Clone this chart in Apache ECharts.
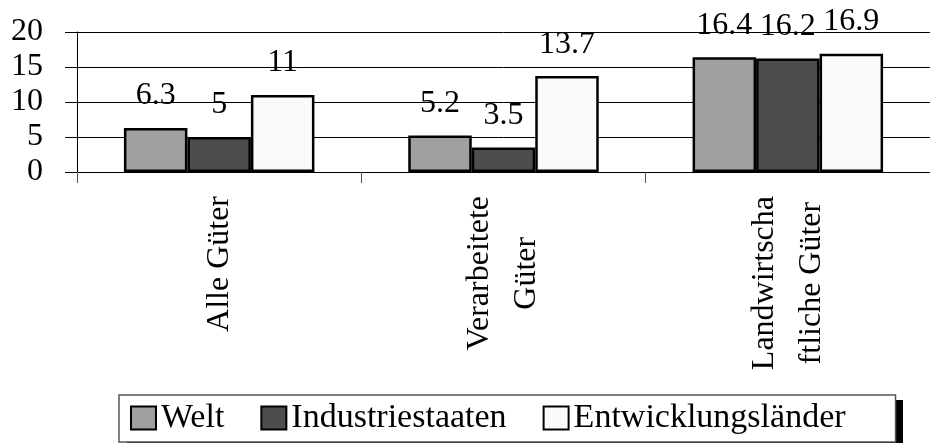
<!DOCTYPE html>
<html>
<head>
<meta charset="utf-8">
<script src="https://cdn.jsdelivr.net/npm/echarts@6/dist/echarts.min.js"></script>
<style>
  html, body { margin: 0; padding: 0; background: #fff; }
  #chart { width: 930px; height: 443px; }
</style>
</head>
<body>
<div id="chart"></div>
<script>
// categories as wrapped in the original
var categories = ['Alle Güter', 'Verarbeitete\nGüter', 'Landwirtscha\nftliche Güter']
var welt = [6.3, 5.2, 16.4]
var industriestaaten = [5, 3.5, 16.2]
var entwicklungslaender = [11, 13.7, 16.9]
var seriesNames = ['Welt', 'Industriestaaten', 'Entwicklungsländer']
var yTicks = { min: 0, max: 20, interval: 5 }

var font = '"Liberation Serif", "Times New Roman", serif'
var colors = ['#a0a0a0', '#4d4d4d', '#fafafa']

var chart = echarts.init(document.getElementById('chart'))

function barSeries(name, data, color) {
  return {
    name: name,
    type: 'bar',
    data: data,
    barGap: '0%',
    barCategoryGap: '33%',
    itemStyle: {
      color: color,
      borderColor: '#000',
      borderWidth: 2.5
    },
    label: {
      show: true,
      position: 'top',
      distance: 16,
      color: '#000',
      fontFamily: font,
      fontSize: 32
    }
  }
}

chart.setOption({
  backgroundColor: '#fff',
  animation: false,
  grid: {
    left: 77,
    right: -8,
    top: 32,
    bottom: 271
  },
  // white box with the black drop shadow behind the legend
  graphic: [{
    type: 'rect',
    z: 0,
    shape: { x: 119, y: 395, width: 776, height: 47 },
    style: {
      fill: '#fff',
      shadowColor: '#000',
      shadowBlur: 0,
      shadowOffsetX: 8,
      shadowOffsetY: 5
    }
  }],
  legend: {
    left: 119,
    top: 395,
    padding: [5, 50, 6, 11],
    itemWidth: 25,
    itemHeight: 23,
    itemGap: 36,
    icon: 'rect',
    borderColor: '#555',
    borderWidth: 1.5,
    borderRadius: 0,
    textStyle: {
      fontFamily: font,
      fontSize: 34,
      lineHeight: 36,
      color: '#000'
    },
    data: seriesNames
  },
  xAxis: {
    type: 'category',
    data: categories,
    boundaryGap: true,
    axisLine: { lineStyle: { color: '#000', width: 1 } },
    axisTick: { show: true, length: 11, lineStyle: { color: '#555' } },
    axisLabel: {
      rotate: 90,
      margin: 24,
      interval: 0,
      formatter: function(value) {
        return value.split('\n').map(function(s) { return '{c|' + s + '}' }).join('\n')
      },
      rich: {
        c: {
          fontFamily: font,
          fontSize: 32,
          lineHeight: 47,
          color: '#000',
          align: 'center'
        }
      }
    }
  },
  yAxis: {
    type: 'value',
    min: yTicks.min,
    max: yTicks.max,
    interval: yTicks.interval,
    axisLine: { show: true, lineStyle: { color: '#000', width: 1 } },
    axisTick: { show: true, length: 12, lineStyle: { color: '#000' } },
    splitLine: { show: true, lineStyle: { color: '#000', width: 1 } },
    axisLabel: {
      margin: 34,
      fontFamily: font,
      fontSize: 32,
      color: '#000'
    }
  },
  series: [
    barSeries(seriesNames[0], welt, colors[0]),
    barSeries(seriesNames[1], industriestaaten, colors[1]),
    barSeries(seriesNames[2], entwicklungslaender, colors[2])
  ]
})
</script>
</body>
</html>
